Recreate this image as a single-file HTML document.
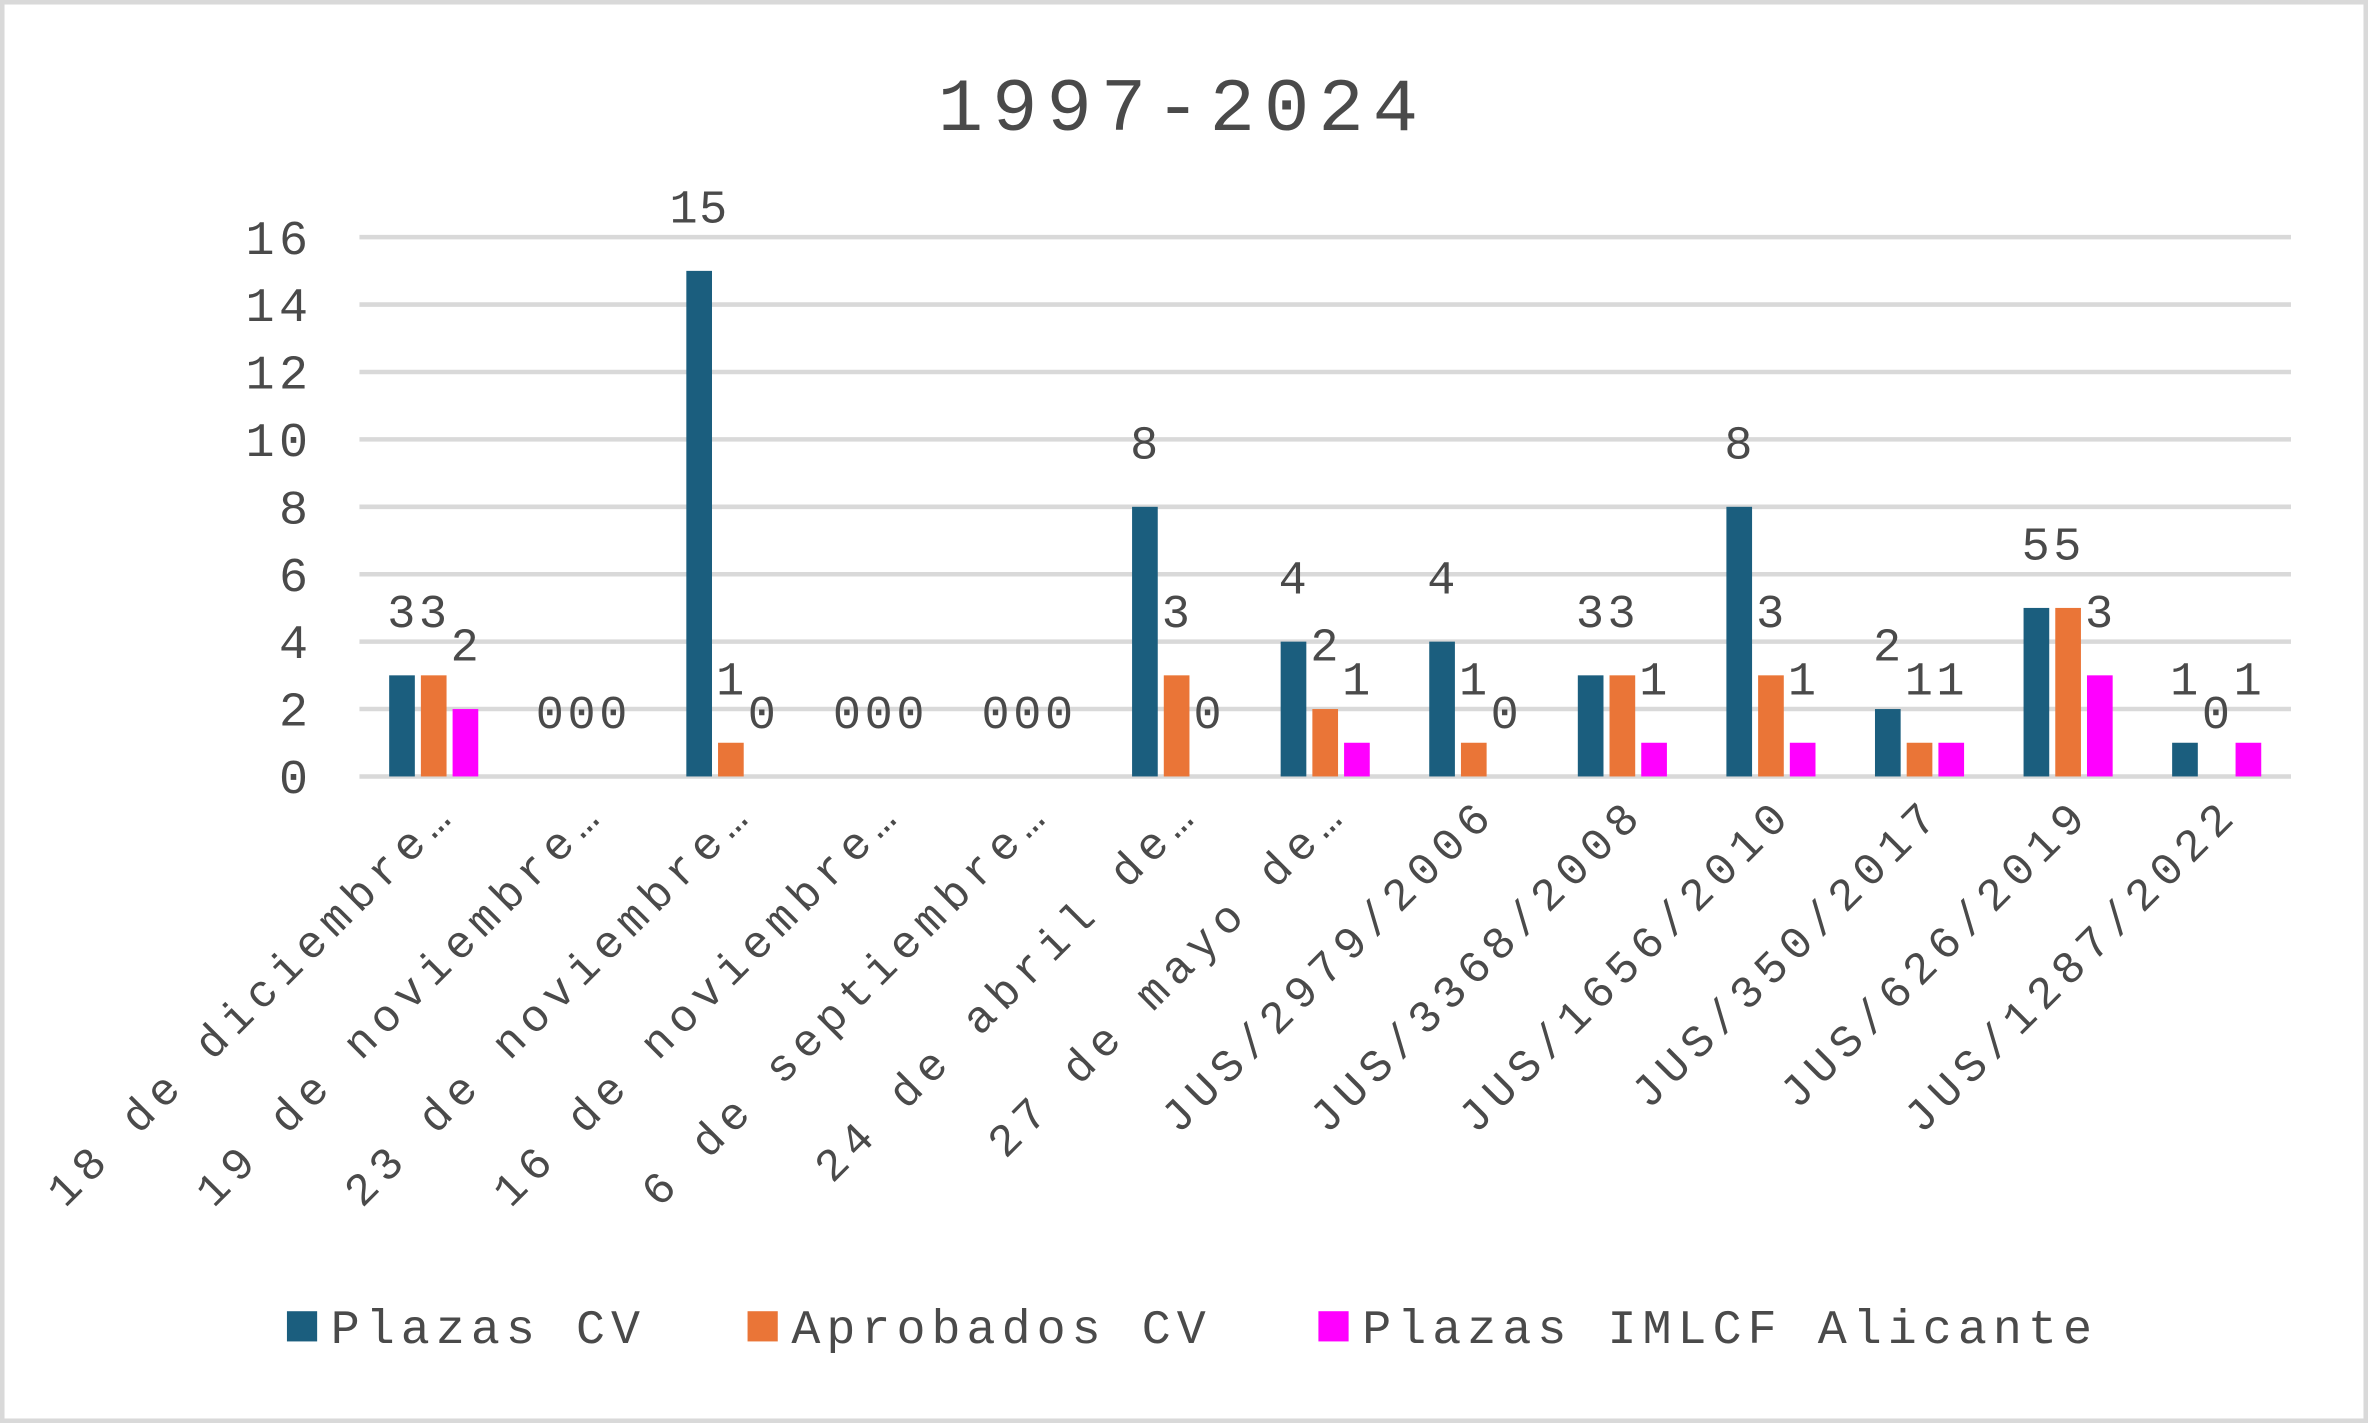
<!DOCTYPE html>
<html><head><meta charset="utf-8"><style>
html,body{margin:0;padding:0;background:#fff;}
svg{display:block;}
text{font-family:"Liberation Mono",monospace;fill:#4a4a4a;}
</style></head><body>
<svg id="chart" width="2368" height="1423" viewBox="0 0 1568 942" preserveAspectRatio="none" xmlns="http://www.w3.org/2000/svg">
<rect x="1.5" y="1.5" width="1565" height="939" fill="#fff" stroke="#d9d9d9" stroke-width="3"/>
<text x="783" y="86" font-size="50" letter-spacing="6" text-anchor="middle" fill="#595959">1997-2024</text>
<g id="grid"></g><g id="bars"></g><g id="labels"></g><g id="xlabels"></g>
<g>
<rect x="190" y="868" width="20" height="20" fill="#1b5e7e"/>
<text x="219" y="889" font-size="32" letter-spacing="4">Plazas CV</text>
<rect x="495" y="868" width="20" height="20" fill="#ea7537"/>
<text x="524" y="889" font-size="32" letter-spacing="4">Aprobados CV</text>
<rect x="873" y="868" width="20" height="20" fill="#ff00ff"/>
<text x="902" y="889" font-size="32" letter-spacing="4">Plazas IMLCF Alicante</text>
</g>
</svg>
<script>
const categories=["18 de diciembre…","19 de noviembre…","23 de noviembre…","16 de noviembre…","6 de septiembre…","24 de abril de…","27 de mayo de…","JUS/2979/2006","JUS/3368/2008","JUS/1656/2010","JUS/350/2017","JUS/626/2019","JUS/1287/2022"];
const plazasCV=[3,0,15,0,0,8,4,4,3,8,2,5,1];
const aprobadosCV=[3,0,1,0,0,3,2,1,3,3,1,5,0];
const plazasIMLCF=[2,0,0,0,0,0,1,0,1,1,1,3,1];
const yTicks=[0,2,4,6,8,10,12,14,16];
const NS="http://www.w3.org/2000/svg";
const x0=238,x1=1517,y0=514,yTop=157,yMax=16;
const bw=(x1-x0)/categories.length;
function y(v){return y0-(y0-yTop)*v/yMax;}
function xc(i){return x0+bw*(i+0.5);}
function mk(tag,attrs,parent,txt){const e=document.createElementNS(NS,tag);for(const k in attrs)e.setAttribute(k,attrs[k]);if(txt!==undefined)e.textContent=txt;document.getElementById(parent).appendChild(e);return e;}
yTicks.forEach(t=>{
  const l=mk('line',{x1:x0,x2:x1,y1:y(t),y2:y(t),stroke:'#d9d9d9','stroke-width':3},'grid');
  
  
  const tx=mk('text',{x:207,y:y(t)+11,'font-size':32,'letter-spacing':3,'text-anchor':'end',fill:'#595959'},'grid',String(t));
  
  
});
const series=[[plazasCV,'#1b5e7e','plazas-cv'],[aprobadosCV,'#ea7537','aprobados-cv'],[plazasIMLCF,'#ff00ff','plazas-imlcf']];
const barW=17,gap=4;
categories.forEach((c,i)=>{
  series.forEach((s,j)=>{
    const v=s[0][i];
    const bx=xc(i)+(j-1)*(barW+gap)-barW/2;
    if(v>0){
      const r=mk('rect',{x:bx,y:y(v),width:barW,height:y0-y(v),fill:s[1]},'bars');
      
      
    }
    const t=mk('text',{x:bx+barW/2,y:y(v)-32,'font-size':31,'letter-spacing':1,'text-anchor':'middle'},'labels',String(v));
    
    
  });
  const ax=xc(i)+16,ay=540;
  const xl=mk('text',{x:ax,y:ay,'font-size':30,'letter-spacing':5,'text-anchor':'end',transform:'rotate(-45 '+ax+' '+ay+')'},'xlabels',c);
  
  
});
</script>
</body></html>
